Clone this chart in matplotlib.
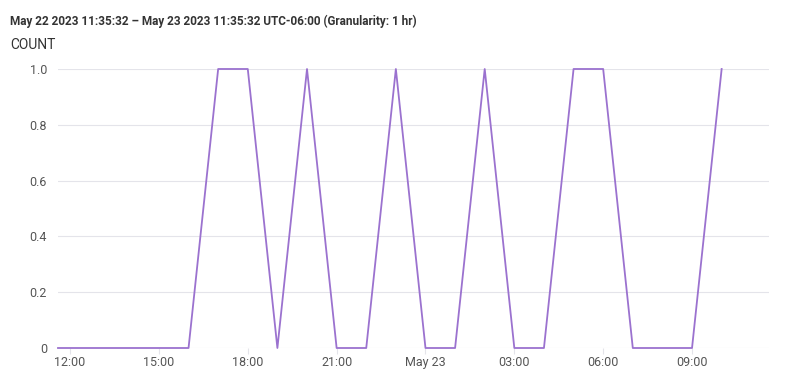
import numpy as np
import pandas as pd
import matplotlib
matplotlib.use("Agg")
import matplotlib.pyplot as plt
import matplotlib.dates as mdates

plt.rcParams['font.family'] = ['Roboto', 'DejaVu Sans']

# hourly counts
times = pd.date_range("2023-05-22 11:00", "2023-05-23 10:00", freq="h")
counts = [0, 0, 0, 0, 0, 0, 1, 1, 0, 1, 0, 0, 1, 0, 0, 1, 0, 0, 1, 1, 0, 0, 0, 1]

start = pd.Timestamp("2023-05-22 11:35:32")
end = pd.Timestamp("2023-05-23 11:35:32")
yticks = [0, 0.2, 0.4, 0.6, 0.8, 1.0]
ylabels = ["0", "0.2", "0.4", "0.6", "0.8", "1.0"]

fig = plt.figure(figsize=(8, 3.85), dpi=100)
ax = fig.add_axes([0.0725, 0.0961, 0.8885, 0.7247])

# drop the 11:00 point that falls before the window start
t = times[1:]
c = counts[1:]
ax.plot([start] + list(t), [counts[0]] + c, color="#9b72cf", linewidth=1.3, clip_on=False)
ax.set_xlim(start, end)
ax.set_ylim(0, 1)

for y in yticks:
    ax.axhline(y, color="#e4e4ea", linewidth=0.8, zorder=0)

ax.set_yticks(yticks)
ax.set_yticklabels(ylabels)
ax.xaxis.set_major_locator(mdates.HourLocator(byhour=[0, 3, 6, 9, 12, 15, 18, 21]))

def fmt(x, pos=None):
    d = mdates.num2date(x)
    if d.hour == 0:
        return d.strftime("%b %d").replace(" 0", " ")
    return d.strftime("%H:%M")

ax.xaxis.set_major_formatter(plt.FuncFormatter(fmt))

for s in ax.spines.values():
    s.set_visible(False)
ax.tick_params(axis="y", length=0, pad=8, labelsize=9, labelcolor="#555555")
ax.tick_params(axis="x", length=4, color="#e4e4ea", pad=2, labelsize=9, labelcolor="#555555")

fig.text(0.0125, 0.945, "May 22 2023 11:35:32 \u2013 May 23 2023 11:35:32 UTC-06:00 (Granularity: 1 hr)",
         fontsize=8.5, fontweight="bold", color="#333333", va="center")
fig.text(0.0125, 0.882, "COUNT", fontsize=10, color="#333333", va="center")

fig.savefig("out.png", dpi=100)
